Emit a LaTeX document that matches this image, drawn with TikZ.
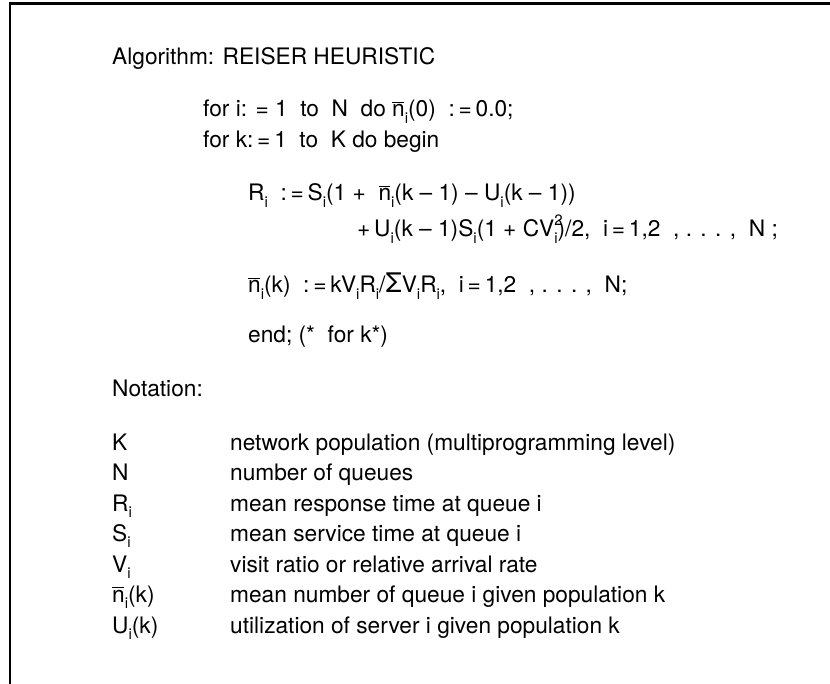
\documentclass[tikz,border=0pt]{standalone}
\usepackage{fontspec}
\setmainfont{TeX Gyre Heros}
\newcommand\sbi[1]{\raisebox{-0.28em}{\fontsize{15}{15}\selectfont #1}}
\newcommand\supsub[2]{\rlap{\raisebox{0.5em}{\fontsize{15}{15}\selectfont #1}}\raisebox{-0.28em}{\fontsize{15}{15}\selectfont #2}}
\newcommand\nbar{\rlap{\raisebox{0.62em}{\rule{0.5em}{0.055em}}}n}
\newcommand\bigsig{{\fontsize{27}{27}\selectfont Σ}}
\begin{document}
\begin{tikzpicture}[x=1pt,y=-1pt,
  txt/.style={anchor=base west, inner sep=0pt, font=\fontsize{22.7}{27}\selectfont},
  frame/.style={line width=2.4pt}]
\useasboundingbox (0,0) rectangle (830,684);
\draw[frame] (10,684) -- (10,3.5) -- (830,3.5);
\node[txt] (title) at (112,65) {Algorithm: REISER HEURISTIC};
\node[txt] (fori) at (203,117) {for i: = 1 \ to \ N \ do \nbar\sbi{i}(0) \ :\,=\,0.0;};
\node[txt] (fork) at (203,148) {for k:\,=\,1 \ to \ K do begin};
\node[txt] (rline) at (248,201) {R\sbi{i} \ :\,=\,S\sbi{i}(1 + \ \nbar\sbi{i}(k – 1) – U\sbi{i}(k – 1))};
\node[txt] (rcont) at (357,237) {+\,U\sbi{i}(k – 1)S\sbi{i}(1 + CV\supsub{2}{i})/2, \ i\,=\,1,2 \ , . . . , \ N ;};
\node[txt] (nline) at (248,293) {\nbar\sbi{i}(k) \ :\,=\,kV\sbi{i}R\sbi{i}/\bigsig V\sbi{i}R\sbi{i}, \ i\,=\,1,2 \ , . . . , \ N;};
\node[txt] (endl) at (248,343) {end; (* \ for k*)};
\node[txt] (nota) at (112,397) {Notation:};
\node[txt] (tK) at (112,450) {K};
\node[txt] (dK) at (230,450) {network population (multiprogramming level)};
\node[txt] (tN) at (112,480.5) {N};
\node[txt] (dN) at (230,480.5) {number of queues};
\node[txt] (tR) at (112,511) {R\sbi{i}};
\node[txt] (dR) at (230,511) {mean response time at queue i};
\node[txt] (tS) at (112,541.5) {S\sbi{i}};
\node[txt] (dS) at (230,541.5) {mean service time at queue i};
\node[txt] (tV) at (112,572) {V\sbi{i}};
\node[txt] (dV) at (230,572) {visit ratio or relative arrival rate};
\node[txt] (tn) at (112,602.5) {\nbar\sbi{i}(k)};
\node[txt] (dn) at (230,602.5) {mean number of queue i given population k};
\node[txt] (tU) at (112,633) {U\sbi{i}(k)};
\node[txt] (dU) at (230,633) {utilization of server i given population k};
\end{tikzpicture}
\end{document}
